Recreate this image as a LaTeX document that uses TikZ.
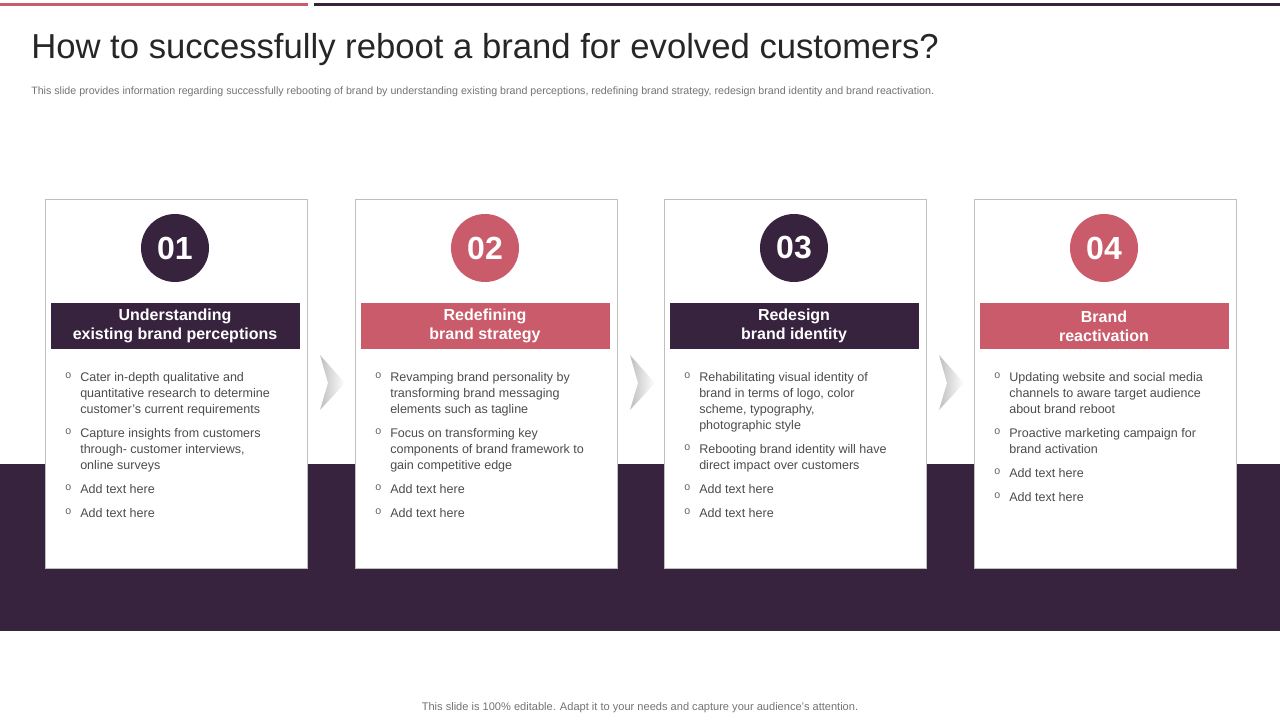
\documentclass[tikz,border=0pt]{standalone}
\usepackage{fontspec}
\setmainfont{Liberation Sans}
\begin{document}
\begin{tikzpicture}[x=0.75pt,y=-0.75pt,
  card/.style={draw=black!25,fill=white,line width=0.6pt},
  num/.style={circle,minimum size=51pt,inner sep=0pt,text=white,font=\fontsize{24}{24}\selectfont\bfseries},
  hdr/.style={minimum width=186.75pt,minimum height=34.5pt,inner sep=0pt,text=white,align=center,font=\fontsize{12}{14.2}\selectfont\bfseries},
  bul/.style={anchor=north west,inner sep=0pt,align=left,text=black!70,font=\fontsize{9.4}{12}\selectfont},
  dot/.style={anchor=north west,inner sep=0pt,text=black!60,font=\fontsize{8}{12}\selectfont}]
\definecolor{dk}{HTML}{38233F}
\definecolor{pk}{HTML}{C95B6A}
\useasboundingbox (0,0) rectangle (1280,720);
\fill[pk] (0,3) rectangle (308,6);
\fill[dk] (314,3) rectangle (1280,6);
\node[anchor=west,inner sep=0pt,font=\fontsize{26}{28}\selectfont,text=black!85] (title) at (31,50) {How to successfully reboot a brand for evolved customers?};
\node[anchor=west,inner sep=0pt,font=\fontsize{8}{10}\selectfont,text=black!55] (sub) at (31,92) {This slide provides information regarding successfully rebooting of brand by understanding existing brand perceptions, redefining brand strategy, redesign brand identity and brand reactivation.};
\fill[dk] (0,464) rectangle (1280,631);
\foreach \i/\x in {0/320,1/630,2/939}{
  \shade[left color=black!25,right color=white] (\x,355) -- (\x+25,383) -- (\x,410) -- (\x+8,383) -- cycle;}
\foreach \x/\n/\c/\t [count=\k] in {45/01/dk/{Understanding\\existing brand perceptions},355/02/pk/{Redefining\\brand strategy},664/03/dk/{Redesign\\brand identity},974/04/pk/{Brand\\reactivation}}{
  \draw[card] (\x,199) rectangle (\x+262,568);
  \node[num,fill=\c] (n\k) at (\x+130,248) {\n};
  \node[hdr,fill=\c] (h\k) at (\x+130,326) {\t};
}
% bullets
\newcommand{\bl}[3]{\node[dot] at (#1-15,#2) {o}; \node[bul] at (#1,#2) {#3};}
\bl{80}{372}{Cater in-depth qualitative and\\quantitative research to determine\\customer's current requirements}
\bl{80}{428}{Capture insights from customers\\through- customer interviews,\\online surveys}
\bl{80}{484}{Add text here}
\bl{80}{508}{Add text here}
\bl{390}{372}{Revamping brand personality by\\transforming brand messaging\\elements such as tagline}
\bl{390}{428}{Focus on transforming key\\components of brand framework to\\gain competitive edge}
\bl{390}{484}{Add text here}
\bl{390}{508}{Add text here}
\bl{699}{372}{Rehabilitating visual identity of\\brand in terms of logo, color\\scheme, typography,\\photographic style}
\bl{699}{444}{Rebooting brand identity will have\\direct impact over customers}
\bl{699}{484}{Add text here}
\bl{699}{508}{Add text here}
\bl{1009}{372}{Updating website and social media\\channels to aware target audience\\about brand reboot}
\bl{1009}{428}{Proactive marketing campaign for\\brand activation}
\bl{1009}{468}{Add text here}
\bl{1009}{492}{Add text here}
\node[font=\fontsize{8.3}{10}\selectfont,text=black!55] (foot) at (640,708) {This slide is 100\% editable. Adapt it to your needs and capture your audience's attention.};
\end{tikzpicture}
\end{document}
